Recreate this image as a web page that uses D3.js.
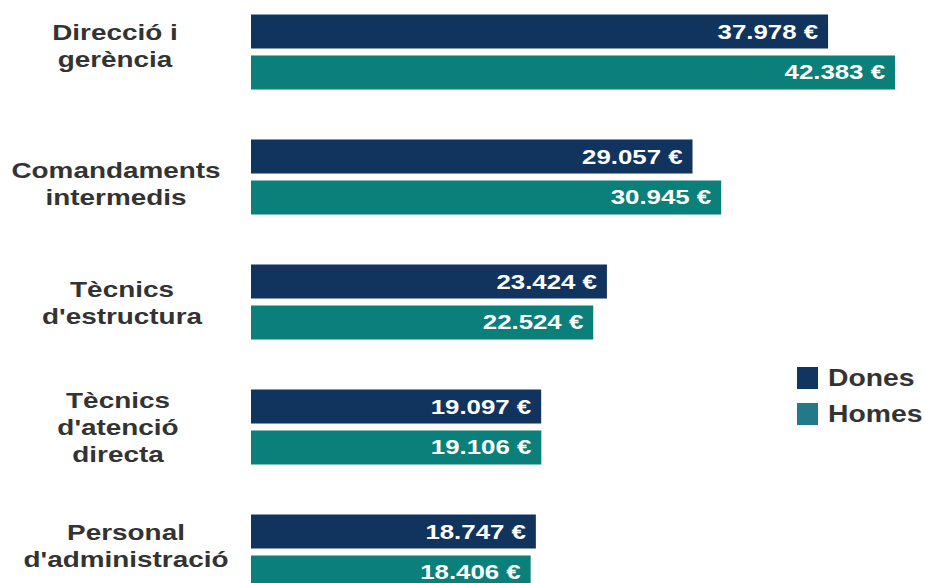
<!DOCTYPE html>
<html>
<head>
<meta charset="utf-8">
<script src="https://cdn.jsdelivr.net/npm/d3@7"></script>
<style>
  body { margin: 0; background: #fff; }
  svg { display: block; font-family: "Liberation Sans", Arial, Helvetica, sans-serif; font-weight: bold; }
</style>
</head>
<body>
<div id="chart"></div>
<script>
// categories (one label line per entry)
const categories = [
  ["Direcció i", "gerència"],
  ["Comandaments", "intermedis"],
  ["Tècnics", "d'estructura"],
  ["Tècnics", "d'atenció", "directa"],
  ["Personal", "d'administració"]
];
const series = ["Dones", "Homes"];
const dones = [37978, 29057, 23424, 19097, 18747];
const homes = [42383, 30945, 22524, 19106, 18406];

const width = 925, height = 583;
const barColor = { Dones: "#11345f", Homes: "#0b7f79" };
const legendColor = { Dones: "#0f3560", Homes: "#23798a" };
const textGray = "#333";
const stretch = 1.24; // the source picture is widened horizontally

// small hand nudges so the labels sit where they do in the original
const labelX = [115, 116, 122, 118, 126];
const labelDy = [-5.5, 7.5, 1.5, 1, -5.5];

const svg = d3.select("#chart").append("svg")
  .attr("width", width)
  .attr("height", height);

const keys = categories.map((c, i) => i);
const y = d3.scaleBand().domain(keys).range([14.5, 14.5 + 125 * keys.length]);
const ySub = d3.scaleBand().domain(series).range([0, 75]).paddingInner(0.17);
const x = d3.scaleLinear().domain([0, d3.max(homes.concat(dones))]).range([251, 895]);

const rows = keys.map(i => ({ i, Dones: dones[i], Homes: homes[i] }));

function fmt(v) {
  return d3.format(",")(v).replace(/,/g, ".") + " €";
}

// stretched text helper
function place(sel, px, py, sx) {
  sel.attr("transform", `translate(${px},${py}) scale(${sx},1)`);
}

const group = svg.selectAll("g.cat")
  .data(rows)
  .enter().append("g")
  .attr("class", "cat")
  .attr("transform", d => `translate(0,${y(d.i)})`);

series.forEach(s => {
  group.append("rect")
    .attr("x", x(0))
    .attr("y", ySub(s))
    .attr("width", d => x(d[s]) - x(0))
    .attr("height", ySub.bandwidth())
    .attr("fill", barColor[s]);

  group.append("text")
    .attr("fill", "#fff")
    .attr("font-size", 20.5)
    .attr("text-anchor", "end")
    .text(d => fmt(d[s]))
    .each(function(d) {
      place(d3.select(this), x(d[s]) - 10, ySub(s) + ySub.bandwidth() / 2 + 7, 1.26);
    });
});

// category labels
const lineH = 27;
group.each(function(d) {
  const lines = categories[d.i];
  const mid = 75 / 2;
  const first = mid - (lines.length - 1) * lineH / 2 + 7 + labelDy[d.i];
  lines.forEach((ln, k) => {
    d3.select(this).append("text")
      .attr("fill", textGray)
      .attr("font-size", 22.5)
      .attr("text-anchor", "middle")
      .text(ln)
      .call(place, labelX[d.i], first + k * lineH, stretch);
  });
});

// legend
const legend = svg.append("g").attr("transform", "translate(797,367)");
series.forEach((s, k) => {
  const row = legend.append("g").attr("transform", `translate(0,${k * 36})`);
  row.append("rect")
    .attr("width", 21)
    .attr("height", 22)
    .attr("fill", legendColor[s]);
  row.append("text")
    .attr("fill", textGray)
    .attr("font-size", 24)
    .text(s)
    .call(place, 31, 19, 1.18);
});
</script>
</body>
</html>
